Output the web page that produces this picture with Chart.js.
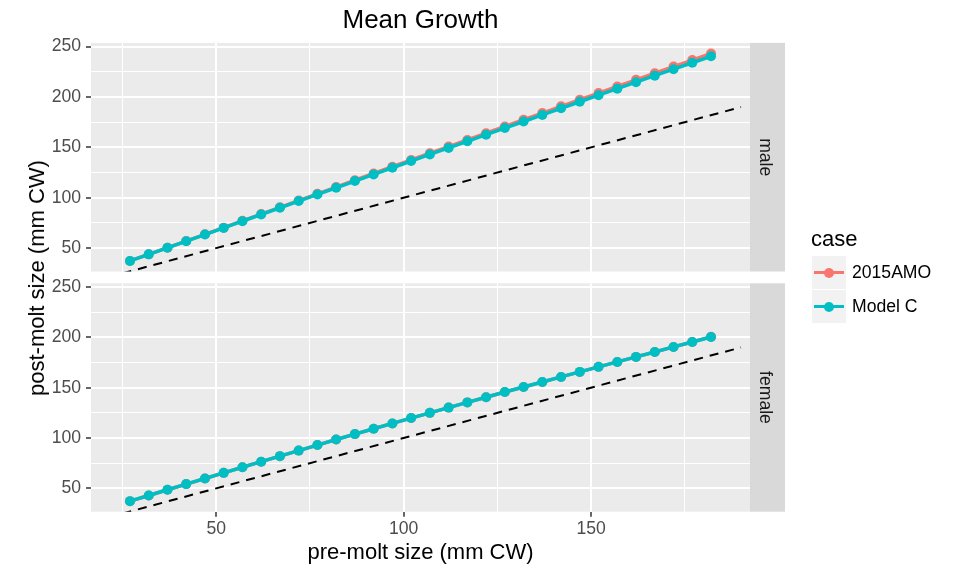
<!DOCTYPE html>
<html>
<head>
<meta charset="utf-8">
<title>Mean Growth</title>
<script src="https://cdn.jsdelivr.net/npm/chart.js@4.4.1/dist/chart.umd.min.js"></script>
<style>
  body { margin: 0; background: #fff; font-family: "Liberation Sans", Arial, Helvetica, sans-serif; }
  #wrap { position: relative; width: 954px; height: 569px; overflow: hidden; }
  #wrap canvas { position: absolute; left: 0; top: 0; }
  #ytitle { position: absolute; left: 37px; top: 277.5px; font-size: 22px; line-height: 22px; white-space: nowrap;
            color: #000; transform: translate(-50%, -50%) rotate(-90deg); }
  .lg-title { position: absolute; left: 811px; top: 228px; font-size: 22px; line-height: 22px; color: #000; }
  .key { position: absolute; left: 812px; width: 34px; height: 33px; background: #f2f2f2; }
  .key .ln { position: absolute; left: 2px; top: 15px; width: 30px; height: 3px; }
  .key .dot { position: absolute; left: 12px; top: 11.5px; width: 10px; height: 10px; border-radius: 50%; }
  .lab { position: absolute; left: 852px; height: 33px; line-height: 33px; font-size: 17.6px; color: #000; }
</style>
</head>
<body>
<div id="wrap">
  <canvas id="male" width="840" height="569"></canvas>
  <canvas id="female" width="840" height="569"></canvas>
  <div id="ytitle">post-molt size (mm CW)</div>
  <div class="lg-title">case</div>
  <div class="key" style="top:256px"><i class="ln" style="background:#F8766D"></i><i class="dot" style="background:#F8766D"></i></div>
  <div class="lab" style="top:256px">2015AMO</div>
  <div class="key" style="top:290px"><i class="ln" style="background:#00BFC4"></i><i class="dot" style="background:#00BFC4"></i></div>
  <div class="lab" style="top:290px">Model C</div>
</div>
<script>
// pre-molt size classes (mm CW)
var preMolt = [27, 32, 37, 42, 47, 52, 57, 62, 67, 72, 77, 82, 87, 92, 97, 102,
               107, 112, 117, 122, 127, 132, 137, 142, 147, 152, 157, 162, 167, 172, 177, 182];

var maleAMO = [37.3, 43.8, 50.4, 57.0, 63.7, 70.3, 77.1, 83.8, 90.5, 97.2, 103.9, 110.6, 117.4, 124.1, 130.8, 137.5,
               144.2, 150.8, 157.4, 164.1, 170.8, 177.4, 184.0, 190.7, 197.3, 203.9, 210.5, 217.0, 223.6, 230.2, 236.7, 243.2];
var maleModelC = [37.3, 43.8, 50.3, 56.9, 63.5, 70.1, 76.8, 83.4, 90.0, 96.7, 103.3, 109.9, 116.6, 123.2, 129.8, 136.4,
                  143.0, 149.5, 156.0, 162.6, 169.2, 175.7, 182.2, 188.8, 195.3, 201.8, 208.3, 214.7, 221.2, 227.6, 234.0, 240.4];
var femaleAMO = [37.3, 42.9, 48.6, 54.2, 59.8, 65.4, 71.0, 76.5, 82.0, 87.5, 93.0, 98.5, 103.9, 109.2, 114.5, 119.8,
                 125.0, 130.2, 135.4, 140.5, 145.7, 150.7, 155.7, 160.7, 165.7, 170.7, 175.6, 180.6, 185.5, 190.5, 195.4, 200.5];
var femaleModelC = [37.3, 42.9, 48.6, 54.2, 59.8, 65.4, 71.0, 76.5, 82.0, 87.5, 93.0, 98.5, 103.9, 109.2, 114.5, 119.8,
                    125.0, 130.2, 135.4, 140.5, 145.7, 150.7, 155.7, 160.7, 165.7, 170.7, 175.6, 180.6, 185.5, 190.5, 195.4, 200.4];

// 1:1 reference line (post = pre)
var refX = [25, 190];
var refY = [25, 190];

var xTicks = [25, 50, 75, 100, 125, 150, 175];
var yTicks = [50, 75, 100, 125, 150, 175, 200, 225, 250];

var teal = '#00BFC4';
var salmon = '#F8766D';

Chart.defaults.font.family = '"Liberation Sans", Arial, Helvetica, sans-serif';
Chart.defaults.animation = false;

function isMajor(v) { return v % 50 === 0; }

function pairs(xs, ys) {
  return xs.map(function (x, i) { return {x: x, y: ys[i]}; });
}

// grey panel + facet strip, ggplot style
var panelPlugin = {
  id: 'panel',
  beforeDraw: function (chart, args, opts) {
    var a = chart.chartArea, ctx = chart.ctx;
    ctx.save();
    ctx.fillStyle = '#ebebeb';
    ctx.fillRect(a.left, a.top, a.right - a.left, a.bottom - a.top);
    ctx.fillStyle = '#d9d9d9';
    ctx.fillRect(a.right, a.top, 35, a.bottom - a.top);
    ctx.translate(a.right + 15, (a.top + a.bottom) / 2);
    ctx.rotate(Math.PI / 2);
    ctx.fillStyle = '#1a1a1a';
    ctx.font = '17.6px "Liberation Sans", Arial, sans-serif';
    ctx.textAlign = 'center';
    ctx.textBaseline = 'middle';
    ctx.fillText(opts.label, 0, 0);
    ctx.restore();
  }
};

function gridWidth(c) { return c.tick && isMajor(c.tick.value) ? 2 : 1; }
function tickCol(c) { return c.tick && isMajor(c.tick.value) ? '#333333' : 'rgba(0,0,0,0)'; }

function makePanel(id, label, amo, modelC, bottom) {
  var xScale = {
    type: 'linear', min: 16.6, max: 192.4,
    afterBuildTicks: function (s) { s.ticks = xTicks.map(function (v) { return {value: v}; }); },
    afterFit: function (s) { s.height = bottom ? 57.3 : 0; },
    border: {display: false},
    grid: {color: '#ffffff', lineWidth: gridWidth, drawTicks: bottom, tickLength: 5, tickColor: tickCol, tickWidth: 1.5},
    ticks: {
      display: bottom, padding: 2, color: '#4d4d4d', font: {size: 17.6}, maxRotation: 0, autoSkip: false,
      callback: function (v) { return isMajor(v) ? v : ''; }
    },
    title: {display: bottom, text: 'pre-molt size (mm CW)', color: '#000', font: {size: 22}, padding: {top: 0, bottom: 2.4}}
  };
  var yScale = {
    type: 'linear', min: 26.8, max: 253.7,
    afterBuildTicks: function (s) { s.ticks = yTicks.map(function (v) { return {value: v}; }); },
    afterFit: function (s) { s.width = 91; },
    border: {display: false},
    grid: {color: '#ffffff', lineWidth: gridWidth, tickLength: 5, tickColor: tickCol, tickWidth: 1.5},
    ticks: {
      padding: 5, color: '#4d4d4d', font: {size: 17.6}, autoSkip: false,
      callback: function (v) { return isMajor(v) ? v : ''; }
    }
  };

  return new Chart(document.getElementById(id), {
    type: 'line',
    data: {
      datasets: [
        {label: 'Model C', data: pairs(preMolt, modelC), borderColor: teal, backgroundColor: teal,
         pointBackgroundColor: teal, borderWidth: 3.5, pointRadius: 5, pointBorderWidth: 0, order: 0},
        {label: '2015AMO', data: pairs(preMolt, amo), borderColor: salmon, backgroundColor: salmon,
         pointBackgroundColor: salmon, borderWidth: 3.5, pointRadius: 5, pointBorderWidth: 0, order: 1},
        {label: '1:1', data: pairs(refX, refY), borderColor: '#000000', borderWidth: 2, borderDash: [9, 7],
         pointRadius: 0, order: 2}
      ]
    },
    options: {
      responsive: false,
      events: [],
      layout: {padding: bottom ? {left: 0, right: 90, top: 283.3, bottom: 0} : {left: 0, right: 90, top: 0, bottom: 297.5}},
      scales: {x: xScale, y: yScale},
      plugins: {
        legend: {display: false},
        tooltip: {enabled: false},
        title: {
          display: !bottom, text: 'Mean Growth', fullSize: false, color: '#000',
          font: {size: 26, weight: 'normal'}, padding: {top: 5.1, bottom: 6.6}
        },
        panel: {label: label}
      }
    },
    plugins: [panelPlugin]
  });
}

makePanel('male', 'male', maleAMO, maleModelC, false);
makePanel('female', 'female', femaleAMO, femaleModelC, true);
</script>
</body>
</html>
